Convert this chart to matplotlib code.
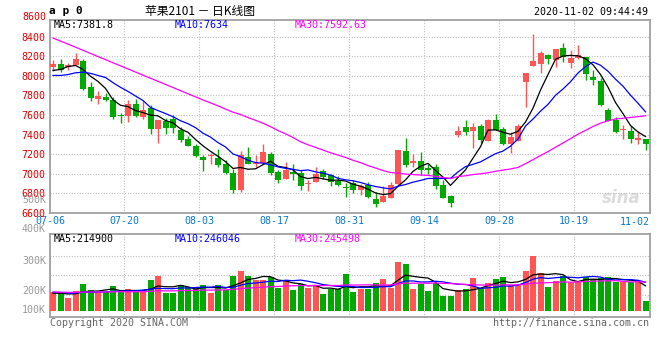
import numpy as np
import pandas as pd
import matplotlib
matplotlib.use('Agg')
import matplotlib.pyplot as plt
from matplotlib.transforms import blended_transform_factory

# daily bars, 07-06 .. 11-02 (ap0, continuous)
opens = [8089, 8116, 8089, 8112, 8150, 7885, 7766, 7786, 7752, 7596,
         7592, 7711, 7579, 7674, 7453, 7538, 7558, 7443, 7354, 7286,
         7171, 7181, 7164, 7103, 7007, 6834, 7171, 7096, 7113, 7201,
         7018, 6950, 7014, 7011, 6899, 6919, 7028, 6984, 6926, 6865,
         6909, 6837, 6882, 6746, 6715, 6756, 6895, 7232, 7109, 7126,
         7062, 7069, 6888, 6773, 7398, 7477, 7436, 7490, 7337, 7548,
         7456, 7300, 7337, 7936, 8099, 8123, 8211, 8157, 8289, 8136,
         8180, 8191, 7987, 7946, 7653, 7551, 7443, 7436, 7347, 7354]
highs = [8163, 8170, 8129, 8231, 8177, 7936, 7844, 7823, 7789, 7619,
         7755, 7766, 7742, 7698, 7550, 7572, 7596, 7477, 7388, 7307,
         7188, 7215, 7249, 7137, 7052, 7228, 7273, 7194, 7303, 7222,
         7035, 7120, 7103, 7035, 6939, 7069, 7048, 7001, 6980, 6905,
         6939, 6892, 6912, 6814, 6871, 6912, 7242, 7364, 7205, 7218,
         7096, 7103, 6933, 6786, 7483, 7551, 7517, 7511, 7558, 7606,
         7477, 7422, 7511, 8027, 8422, 8252, 8225, 8269, 8333, 8259,
         8310, 8197, 8061, 7980, 7674, 7585, 7494, 7487, 7436, 7354]
lows = [8048, 8038, 8061, 8108, 7851, 7742, 7715, 7742, 7562, 7521,
        7528, 7579, 7558, 7402, 7313, 7409, 7415, 7320, 7280, 7171,
        7028, 7103, 7069, 7001, 6803, 6817, 7096, 7069, 7103, 6984,
        6909, 6943, 6939, 6837, 6824, 6916, 6950, 6871, 6878, 6763,
        6803, 6780, 6749, 6661, 6712, 6749, 6885, 7065, 7069, 6987,
        7001, 6844, 6756, 6661, 7375, 7392, 7266, 7317, 7334, 7446,
        7290, 7211, 7330, 7681, 8097, 8027, 8123, 8089, 8140, 8082,
        8167, 7959, 7902, 7691, 7538, 7415, 7358, 7313, 7300, 7245]
closes = [8123, 8061, 8109, 8170, 7864, 7776, 7796, 7752, 7585, 7589,
          7708, 7592, 7650, 7460, 7548, 7470, 7470, 7347, 7283, 7184,
          7143, 7191, 7092, 7011, 6837, 7191, 7103, 7113, 7222, 7007,
          6939, 7041, 6994, 6878, 6905, 7001, 6967, 6919, 6888, 6858,
          6837, 6871, 6763, 6695, 6773, 6888, 7242, 7092, 7130, 7035,
          7035, 6878, 6756, 6705, 7436, 7426, 7477, 7341, 7551, 7446,
          7307, 7375, 7490, 8027, 8150, 8231, 8170, 8269, 8191, 8184,
          8208, 8021, 7959, 7698, 7538, 7422, 7453, 7354, 7368, 7307]
# volume, thousand lots
volumes = [158, 150, 109, 170, 233, 179, 158, 158, 213, 158,
           187, 158, 158, 265, 302, 153, 153, 222, 202, 202,
           222, 153, 222, 179, 302, 343, 302, 268, 265, 291,
           199, 265, 179, 233, 199, 216, 144, 184, 184, 317,
           164, 184, 184, 236, 274, 199, 423, 403, 187, 228,
           170, 242, 127, 127, 179, 187, 285, 193, 239, 270,
           291, 222, 222, 345, 470, 325, 204, 256, 302, 248,
           248, 290, 275, 285, 290, 248, 248, 248, 248, 84]

# sessions before 07-06 (not drawn, only feed the moving averages)
prior_closes = [8980, 9040, 9100, 8830, 8740, 8760, 8690, 8550, 8520, 8650,
                8560, 8590, 8420, 8480, 8430, 8400, 8300, 8240, 8150, 8100,
                8060, 8020, 7990, 7800, 7895, 8011, 7959, 8115, 8067]
prior_volumes = [170, 150, 180, 160, 145, 175, 165, 150, 160, 170,
                 155, 165, 150, 175, 160, 145, 170, 160, 165, 150,
                 180, 165, 170, 160, 175, 150, 140, 160, 145]

tick_idx = [0, 10, 20, 30, 40, 50, 60, 70]
tick_labels = ['07-06', '07-20', '08-03', '08-17', '08-31', '09-14', '09-28', '10-19']
last_label = '11-02'

RED = '#ff5555'
GREEN = '#00a800'
GRID = '#b4b4b4'
MONO = 'DejaVu Sans Mono'
W, H = 660, 360


def fx(px):
    return px / W


def fy(py):
    return 1 - py / H


def mas(prior, vals, n):
    s = pd.Series(list(prior) + list(vals), dtype=float)
    return s.rolling(n).mean().values[len(prior):]


x = np.arange(len(closes))
o = np.array(opens)
c = np.array(closes)
up = c >= o
cols = [RED if u else GREEN for u in up]
vol = np.array(volumes) * 1000.0

fig = plt.figure(figsize=(W / 100, H / 100), dpi=100)
ax = fig.add_axes([fx(50), fy(213), fx(600), 193 / H])
av = fig.add_axes([fx(50), fy(317.3), fx(600), 83 / H])

dots = (0, (0.8, 1.6))
gx = [i - 0.5 if i > 0 else -0.4 for i in tick_idx]

# price panel
ax.vlines(x, lows, highs, colors=cols, linewidth=1.0, zorder=3)
body = np.maximum(np.abs(c - o), 8)
ax.bar(x, body, bottom=np.minimum(o, c), width=0.8, color=cols, linewidth=0, zorder=3)
ax.plot(x, mas(prior_closes, closes, 5), color='black', lw=0.9, zorder=4)
ax.plot(x, mas(prior_closes, closes, 10), color='#0000ff', lw=0.9, zorder=4)
ax.plot(x, mas(prior_closes, closes, 30), color='#ff00ff', lw=0.9, zorder=4)

ax.set_xlim(-0.4, 79.6)
ax.set_ylim(6600, 8570)
ax.set_yticks(range(6600, 8401, 200))
ax.set_yticklabels([str(v) for v in range(6600, 8401, 200)], color='#e00000',
                   fontsize=7.2, family=MONO)
ax.set_xticks(gx)
ax.set_xticklabels(tick_labels, color='#0a78d0', fontsize=7.2, family=MONO)
ax.tick_params(length=0, pad=3.2)
ax.tick_params(axis='x', pad=2)
ax.grid(True, color=GRID, linestyle=dots, linewidth=0.8, zorder=0)
tr = blended_transform_factory(ax.transAxes, ax.transData)
ax.text(-0.0067, 8600, '8600', transform=tr, ha='right', va='center',
        color='#e00000', fontsize=7.2, family=MONO)
ax.text(1.0, -0.045, last_label, transform=ax.transAxes, ha='right', va='center',
        color='#0a78d0', fontsize=7.2, family=MONO)
ax.text(0.985, 0.03, 'sina', transform=ax.transAxes, ha='right', va='bottom',
        color='#dcdcdc', fontsize=12, fontweight='bold', fontstyle='italic', zorder=1)

# volume panel
av.bar(x, vol, width=0.8, color=cols, linewidth=0, zorder=3)
av.plot(x, mas(prior_volumes, vol / 1000, 5) * 1000, color='black', lw=0.9, zorder=4)
av.plot(x, mas(prior_volumes, vol / 1000, 10) * 1000, color='#0000ff', lw=0.9, zorder=4)
av.plot(x, mas(prior_volumes, vol / 1000, 30) * 1000, color='#ff00ff', lw=0.9, zorder=4)
av.set_xlim(-0.4, 79.6)
av.set_ylim(-57000, 660000)
av.set_xticks(gx)
av.set_xticklabels([])
av.set_yticks([])
av.tick_params(length=0)
av.grid(True, axis='x', color=GRID, linestyle=dots, linewidth=0.8, zorder=0)
for f in [0.269, 0.506, 0.742]:
    av.axhline(f * 717000 - 57000, color=GRID, linestyle=dots, linewidth=0.8, zorder=0)

for a in (ax, av):
    for s in a.spines.values():
        s.set_color('#a0a0a0')
        s.set_linewidth(1.3)

# volume axis labels (placed as on the source image)
for lab, py in zip(['500K', '400K', '300K', '200K', '100K'], [200, 229.5, 260.7, 290.7, 310]):
    fig.text(fx(46), fy(py), lab, ha='right', va='center', color='#9a9a9a',
             fontsize=7.2, family=MONO)

# header
fig.text(fx(49), fy(11), 'a p 0', ha='left', va='center', fontsize=8,
         fontweight='bold', family=MONO)
fig.text(fx(200), fy(11), '苹果2101 － 日K线图', ha='center', va='center', fontsize=8.5,
         family=['Noto Sans CJK SC', 'DejaVu Sans'])
fig.text(fx(648), fy(12), '2020-11-02 09:44:49', ha='right', va='center',
         fontsize=7.2, family=MONO)

for s, px, col in [('MA5:7381.8', 54, 'black'), ('MA10:7634', 175, '#0000ff'),
                   ('MA30:7592.63', 295, '#ff00ff')]:
    fig.text(fx(px), fy(24.5), s, ha='left', va='center', color=col, fontsize=7.2, family=MONO)
for s, px, col in [('MA5:214900', 54, 'black'), ('MA10:246046', 175, '#0000ff'),
                   ('MA30:245498', 295, '#ff00ff')]:
    fig.text(fx(px), fy(238.5), s, ha='left', va='center', color=col, fontsize=7.2, family=MONO)

fig.text(fx(50), fy(323.5), 'Copyright 2020 SINA.COM', ha='left', va='center',
         color='#666666', fontsize=7.2, family=MONO)
fig.text(fx(649), fy(323.5), 'http://finance.sina.com.cn', ha='right', va='center',
         color='#666666', fontsize=7.2, family=MONO)

fig.savefig('out.png', dpi=100, facecolor='white')
